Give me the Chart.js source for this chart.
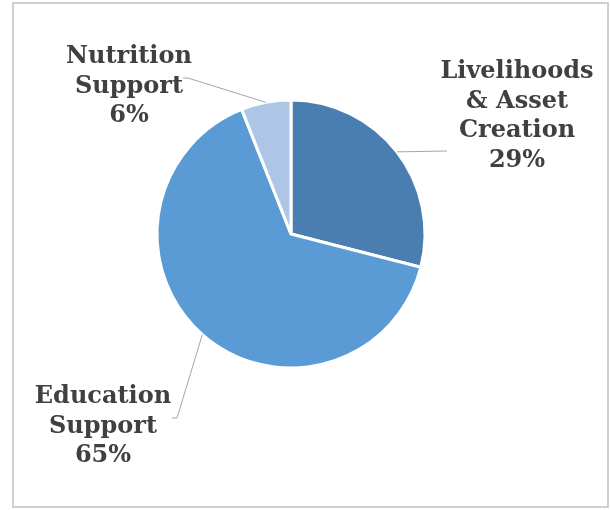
<!DOCTYPE html>
<html>
<head>
<meta charset="utf-8">
<script src="https://cdn.jsdelivr.net/npm/chart.js@4/dist/chart.umd.min.js"></script>
<style>
  html, body { margin: 0; padding: 0; background: #fff; }
  #wrap { width: 610px; height: 510px; }
</style>
</head>
<body>
<div id="wrap"><canvas id="piechart" width="610" height="510"></canvas></div>
<script>
// programme shares (%), clockwise from 12 o'clock
const categories = ['Livelihoods & Asset Creation', 'Education Support', 'Nutrition Support'];
const shares = [29, 65, 6];
const sliceColors = ['#4a7eb1', '#5b9bd5', '#adc6e5'];

// label text, split the way it wraps on the chart
const labelLines = [
  ['Livelihoods', '& Asset', 'Creation'],
  ['Education', 'Support'],
  ['Nutrition', 'Support']
];

// where each label block sits (centre of first line) and the leader line bends
const labelAnchors = [[517, 69], [103, 394], [129, 54]];
const leaderBends = [
  [[447, 151]],
  [[177, 418], [172, 418]],
  [[188, 78], [183, 78]]
];
const lineGap = 29.5;

// light grey frame round the whole chart
const framePlugin = {
  id: 'frame',
  beforeDraw(chart) {
    const ctx = chart.ctx;
    ctx.save();
    ctx.fillStyle = '#fff';
    ctx.fillRect(0, 0, chart.width, chart.height);
    ctx.strokeStyle = '#d0d0d0';
    ctx.lineWidth = 2;
    ctx.strokeRect(13, 3, 595, 504);
    ctx.restore();
  }
};

// category + percent labels with leader lines from the arc's mid point
const sliceLabels = {
  id: 'sliceLabels',
  afterDatasetsDraw(chart) {
    const ctx = chart.ctx;
    const arcs = chart.getDatasetMeta(0).data;
    ctx.save();
    arcs.forEach((arc, i) => {
      const p = arc.getProps(['x', 'y', 'startAngle', 'endAngle', 'outerRadius'], true);
      const mid = (p.startAngle + p.endAngle) / 2;
      const sx = p.x + Math.cos(mid) * p.outerRadius;
      const sy = p.y + Math.sin(mid) * p.outerRadius;

      ctx.strokeStyle = '#a6a6a6';
      ctx.lineWidth = 1;
      ctx.beginPath();
      ctx.moveTo(sx, sy);
      leaderBends[i].forEach(pt => ctx.lineTo(pt[0], pt[1]));
      ctx.stroke();

      const lines = labelLines[i].concat([shares[i] + '%']);
      ctx.fillStyle = '#404040';
      ctx.font = 'bold 24px "DejaVu Serif"';
      ctx.textAlign = 'center';
      ctx.textBaseline = 'alphabetic';
      lines.forEach((t, k) => {
        ctx.fillText(t, labelAnchors[i][0], labelAnchors[i][1] + 9 + k * lineGap);
      });
    });
    ctx.restore();
  }
};

document.addEventListener("DOMContentLoaded", function() {
  const ctx = document.getElementById('piechart').getContext('2d');
  const piechart = new Chart(ctx, {
    type: 'pie',
    data: {
      labels: categories,
      datasets: [{
        data: shares,
        backgroundColor: sliceColors,
        borderColor: '#ffffff',
        borderWidth: 3,
        radius: 134
      }]
    },
    options: {
      responsive: false,
      animation: false,
      layout: {
        padding: { left: 0, right: 28, top: 0, bottom: 42 }
      },
      plugins: {
        legend: { display: false },
        tooltip: { enabled: false }
      }
    },
    plugins: [framePlugin, sliceLabels]
  });
});
</script>
</body>
</html>
